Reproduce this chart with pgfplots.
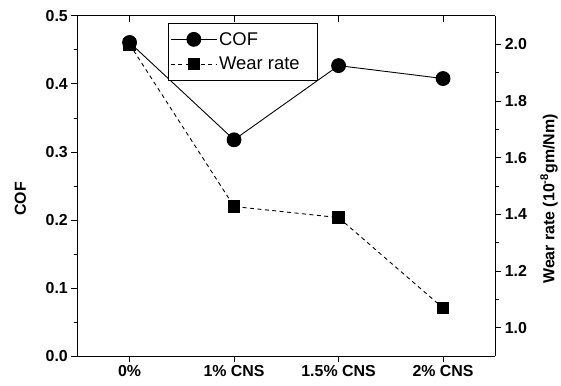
\documentclass[border=0pt]{standalone}
\usepackage{pgfplots}
\pgfplotsset{compat=1.18}
\usepackage{fontspec}
\setmainfont{Liberation Sans}
\begin{document}
\begin{tikzpicture}
\pgfplotsset{
  every axis/.style={
    scale only axis, width=420pt, height=342pt,
    xmin=-0.5, xmax=3.5,
    xtick={0,1,2,3},
    /pgf/number format/assume math mode=true,
    tick label style={font=\bfseries\fontsize{16}{18}\selectfont},
    label style={font=\bfseries\fontsize{16}{18}\selectfont},
    axis line style={line width=1pt},
    every tick/.style={black, line width=1pt},
    major tick length=6pt, minor tick length=3.5pt,
  }
}
\begin{axis}[
  name=main,
  axis y line*=left,
  axis x line*=bottom,
  xticklabels={0\%,1\% CNS,1.5\% CNS,2\% CNS},
  ymin=0, ymax=0.5,
  ytick={0,0.1,...,0.5},
  minor ytick={0.05,0.15,...,0.45},
  yticklabel style={/pgf/number format/fixed,/pgf/number format/precision=1,/pgf/number format/fixed zerofill},
  ylabel={COF},
  ylabel style={at={(rel axis cs:0,0.462)}, anchor=base, yshift=51.7pt},
  tick align=outside,
]
\addplot[black, line width=0.9pt, mark=*, mark size=7pt] coordinates {(0,0.461) (1,0.318) (2,0.427) (3,0.408)};
\end{axis}
\begin{axis}[
  axis y line*=right,
  axis x line*=top,
  xticklabels={},
  ymin=0.9, ymax=2.1,
  ytick={1.0,1.2,...,2.0},
  minor ytick={1.1,1.3,...,1.9},
  yticklabel style={/pgf/number format/fixed,/pgf/number format/precision=1,/pgf/number format/fixed zerofill},
  ylabel={Wear rate (10\textsuperscript{-8}gm/Nm)},
  ylabel style={at={(rel axis cs:1,0.462)}, anchor=base, yshift=-59.3pt},
  ytick align=outside,
  xtick align=inside,
  legend style={at={(0.217,0.980)}, anchor=north west, draw=black, line width=1pt,
    font=\fontsize{18.5}{21}\selectfont, row sep=6.5pt, inner xsep=2pt, inner ysep=7pt},
  legend cell align=left,
  legend image code/.code={
    \draw[#1, mark=none] (0pt,0pt) -- (46pt,0pt);
    \draw[#1] plot[only marks] coordinates {(23pt,0pt)};
  },
]
\addlegendimage{black, line width=0.9pt, mark=*, mark size=7pt}
\addlegendentry{COF}
\addplot[black, line width=0.9pt, dash pattern=on 4pt off 3.5pt, mark=square*, mark size=5.8pt, mark options={solid}] coordinates {(0,2.0) (1,1.428) (2,1.389) (3,1.07)};
\addlegendentry{Wear rate\hspace*{14pt}\mbox{}}
\end{axis}
\path (main.south west) ++(-77.7pt,-29pt);
\path (main.north east) ++(63.3pt,16pt);
\end{tikzpicture}
\end{document}
